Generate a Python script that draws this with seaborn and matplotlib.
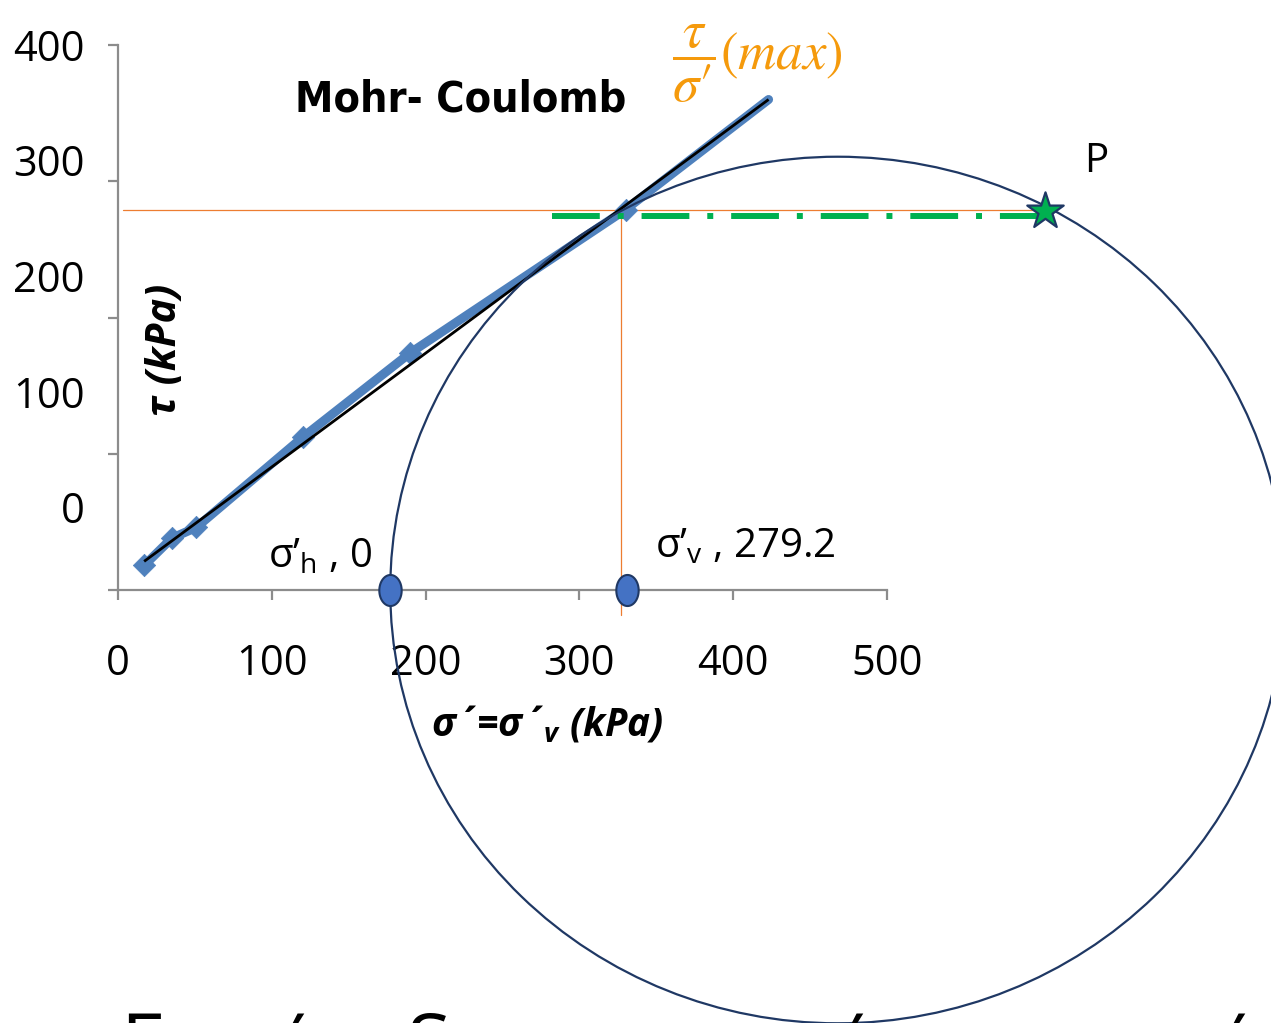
import numpy as np
import pandas as pd
import matplotlib
matplotlib.use("Agg")
import matplotlib.pyplot as plt
from matplotlib.patches import Ellipse
import seaborn as sns

# Direct shear results (effective normal stress vs shear stress, kPa)
sigma_test = [17, 35, 51, 120, 190, 330, 423]
tau_test = [18, 38, 46, 112, 174, 279.2, 360]
n_marked = 6

# Straight Mohr-Coulomb envelope
env_sigma = [17, 423]
env_tau = [21, 360]

# Mohr circle (centre on the sigma axis, radii in kPa along each axis)
circle_centre = 468
circle_rx = 291
circle_ry = 318

# Principal stresses and pole
sigma_h = 177
sigma_v = 331
tau_max = 279.2
sigma_guide = 327
pole_sigma = 603
pole_tau = 278
dash_sigma = [282, 603]
dash_tau = [274.5, 274.5]

x_ticks = [0, 100, 200, 300, 400, 500]
y_ticks = [0, 100, 200, 300, 400]

W, H = 1271, 1023
BLUE = "#4F81BD"
NAVY = "#1F3864"
ORANGE = "#ED7D31"
FORMULA = "#F59A0C"
GREEN = "#00B050"
GREY = "#8C8C8C"

sns.set_theme(style="white")
plt.rcParams["font.family"] = ["Open Sans", "DejaVu Sans"]
plt.rcParams["text.color"] = "black"
plt.rcParams["xtick.color"] = "black"
plt.rcParams["ytick.color"] = "black"
plt.rcParams["mathtext.fontset"] = "custom"
plt.rcParams["mathtext.rm"] = "Open Sans"
plt.rcParams["mathtext.it"] = "Open Sans:italic:bold"
plt.rcParams["mathtext.bf"] = "Open Sans:bold"


def fx(x):
    return x / W


def fy(y):
    return 1 - y / H


fig = plt.figure(figsize=(W / 100, H / 100), dpi=100)
fig.patch.set_facecolor("white")

ax = fig.add_axes([fx(118), fy(590), (887 - 118) / W, (590 - 45) / H])
ax.set_xlim(0, 500)
ax.set_ylim(0, 400)
ax.set_facecolor("white")

df = pd.DataFrame({"sigma": sigma_test, "tau": tau_test})

# measured curve
sns.lineplot(data=df, x="sigma", y="tau", color=BLUE, lw=6.5, sort=False,
             estimator=None, ax=ax, zorder=3)
sns.scatterplot(data=df.iloc[:n_marked], x="sigma", y="tau", marker="D",
                s=130, color=BLUE, edgecolor=BLUE, linewidth=0.5, ax=ax,
                zorder=3)

# fitted envelope
ax.plot(env_sigma, env_tau, color="black", lw=2, zorder=4,
        solid_capstyle="butt")

# guide lines to the pole
ax.plot([3, pole_sigma], [tau_max, tau_max], color=ORANGE, lw=0.9,
        clip_on=False, zorder=2)
ax.plot([sigma_guide, sigma_guide], [tau_max, -18], color=ORANGE, lw=0.9,
        clip_on=False, zorder=2)
ax.plot(dash_sigma, dash_tau, color=GREEN, lw=4.3,
        linestyle=(0, (8, 3, 1, 3)), clip_on=False, zorder=5)

# Mohr circle
circle = Ellipse((circle_centre, 0), 2 * circle_rx, 2 * circle_ry,
                 fill=False, ec=NAVY, lw=1.6, zorder=6)
ax.add_patch(circle)
circle.set_clip_on(False)

# principal stress points on the sigma axis
t = np.linspace(0, 2 * np.pi, 60)
oval = np.column_stack([0.72 * np.cos(t), np.sin(t)])
pts = pd.DataFrame({"sigma": [sigma_h, sigma_v], "tau": [0, 0]})
sns.scatterplot(data=pts, x="sigma", y="tau", marker=oval, s=500,
                color="#4472C4", edgecolor=NAVY, linewidth=1.5, ax=ax,
                zorder=7, clip_on=False)

# pole P
pole = pd.DataFrame({"sigma": [pole_sigma], "tau": [pole_tau]})
sns.scatterplot(data=pole, x="sigma", y="tau", marker="*", s=760,
                color=GREEN, edgecolor=NAVY, linewidth=1.6, ax=ax,
                zorder=8, clip_on=False)

ax.set_xlabel("")
ax.set_ylabel("")
sns.despine(ax=ax)
for side in ("left", "bottom"):
    ax.spines[side].set_color(GREY)
    ax.spines[side].set_linewidth(1.6)

ax.set_xticks(x_ticks)
ax.set_xticklabels([str(v) for v in x_ticks])
ax.set_yticks(y_ticks)
ax.set_yticklabels([])
ax.tick_params(axis="both", direction="out", length=7, width=1.6,
               color=GREY, bottom=True, left=True)
ax.tick_params(axis="x", pad=31, labelsize=30, labelcolor="black")

# value scale printed beside the vertical axis
lab_ax = fig.add_axes([fx(93), fy(507), 0.0005, (507 - 45) / H])
lab_ax.set_ylim(0, 400)
lab_ax.set_yticks(y_ticks)
lab_ax.set_yticklabels([str(v) for v in y_ticks])
lab_ax.set_xticks([])
lab_ax.tick_params(axis="y", length=0, pad=6, labelsize=30,
                   labelcolor="black")
for s in lab_ax.spines.values():
    s.set_visible(False)
lab_ax.patch.set_alpha(0)

# titles and annotations
fig.text(fx(461), fy(112), "Mohr- Coulomb", ha="center", va="baseline",
         fontsize=31, fontweight="bold", fontstretch="condensed",
         family=["DejaVu Sans"])
fig.text(fx(672), fy(64), "$\\dfrac{\\tau}{\\sigma\u2032}(max)$",
         math_fontfamily="stix", color=FORMULA, fontsize=38,
         ha="left", va="center")
fig.text(fx(166), fy(350), "τ (kPa)", rotation=90, ha="center",
         va="center", fontsize=30, fontweight="bold", style="italic")
fig.text(fx(547), fy(725), "σ´=σ´$_{\\mathit{v}}$ (kPa)", ha="center",
         va="center", fontsize=28, fontweight="bold", style="italic")
fig.text(fx(268), fy(567), "σ’$_{\\mathrm{h}}$ , 0", ha="left",
         va="baseline", fontsize=29)
fig.text(fx(655), fy(557), "σ’$_{\\mathrm{v}}$ , 279.2", ha="left",
         va="baseline", fontsize=29)
fig.text(fx(1084), fy(172), "P", ha="left", va="baseline", fontsize=29)

# large caption running off the bottom edge
for glyph, xpos in [("E", 120), ("′", 284), ("S", 407), ("′", 843),
                    ("′", 1225)]:
    fig.text(fx(xpos), fy(1071), glyph, ha="left", va="baseline",
             fontsize=58, family=["Open Sans", "DejaVu Sans"])

fig.savefig("out.png", dpi=100, facecolor="white")
